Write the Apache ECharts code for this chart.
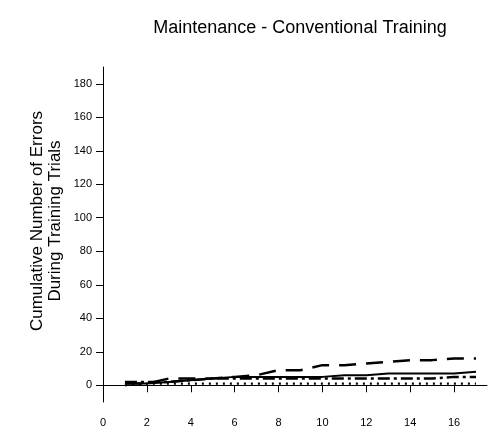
<!DOCTYPE html>
<html><head><meta charset="utf-8">
<script src="https://cdn.jsdelivr.net/npm/echarts@6/dist/echarts.min.js"></script>
<style>html,body{margin:0;padding:0;background:#fff}#c{width:490px;height:433px}</style>
</head><body><div id="c"></div>
<script>
const trials = [1,2,3,4,5,6,7,8,9,10,11,12,13,14,15,16,17];
const longDash = [1,1,4,4,4,5,6,9,9,12,12,13,14,15,15,16,16];
const solid    = [1,1,2,3,4,5,5,5,5,5,6,6,7,7,7,7,8];
const dashDot  = [2,2,2,3,4,4,4,4,4,4,4,4,4,4,4,5,5];
const dotted   = [0,1,1,1,1,1,1,1,1,1,1,1,1,1,1,1,1];
const xTicks = [0,2,4,6,8,10,12,14,16];
const yTicks = [0,20,40,60,80,100,120,140,160,180];
const pair = arr => trials.map((t,i)=>[t,arr[i]]);
const font = '"Liberation Sans", Arial, sans-serif';
const chart = echarts.init(document.getElementById('c'), null, {renderer:'canvas'});
function ser(arr, type, width){
  return {type:'line', data:pair(arr), symbol:'none', animation:false,
    lineStyle:{color:'#000', width:width, type:type}, z:3};
}
chart.setOption({
  animation:false,
  title:{text:'Maintenance - Conventional Training', left:295, textAlign:'center', top:14,
    textStyle:{fontFamily:font, fontSize:18, fontWeight:'normal', color:'#000'}},
  graphic:[{type:'text', x:46, y:221, rotation:Math.PI/2,
    style:{text:'Cumulative Number of Errors\nDuring Training Trials', align:'center', verticalAlign:'middle',
      font:'17px "Liberation Sans", Arial, sans-serif', lineHeight:18, fill:'#000'}}],
  grid:{left:103, right:3, top:67, bottom:31},
  xAxis:{type:'value', min:0, max:17.5,
    axisLine:{lineStyle:{color:'#000', width:1}},
    axisTick:{customValues:xTicks, length:7, lineStyle:{color:'#000'}},
    axisLabel:{customValues:xTicks, margin:15, fontFamily:font, fontSize:11, color:'#000'},
    splitLine:{show:false}},
  yAxis:{type:'value', min:-10, max:190,
    axisLine:{show:true, lineStyle:{color:'#000', width:1}},
    axisTick:{show:true, customValues:yTicks, length:7, lineStyle:{color:'#000'}},
    axisLabel:{customValues:yTicks, margin:11, fontFamily:font, fontSize:11, color:'#000'},
    splitLine:{show:false}},
  series:[
    ser(dotted, [2,5], 2.2),
    ser(dashDot, [12,4,3,4], 2.5),
    ser(solid, 'solid', 2),
    ser(longDash, [17,10], 2.5)
  ]
});
</script></body></html>
